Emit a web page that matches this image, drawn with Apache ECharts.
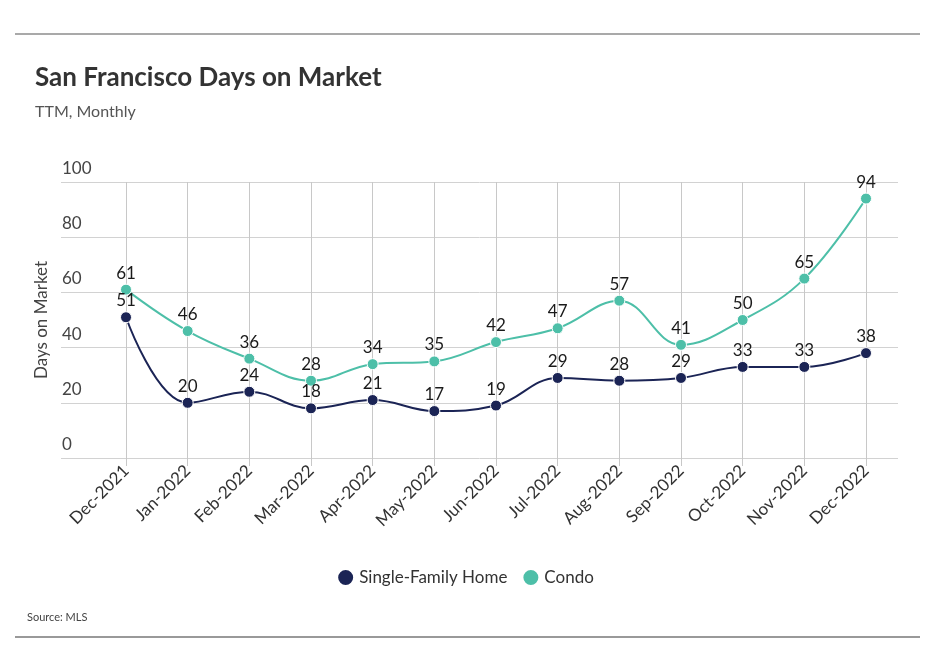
<!DOCTYPE html>
<html>
<head>
<meta charset="utf-8">
<script src="https://cdn.jsdelivr.net/npm/echarts@6/dist/echarts.min.js"></script>
<style>
  html, body { margin: 0; padding: 0; background: #fff; }
  #chart { width: 930px; height: 664px; }
</style>
</head>
<body>
<div id="chart"></div>
<script>
var months = ['Dec-2021', 'Jan-2022', 'Feb-2022', 'Mar-2022', 'Apr-2022', 'May-2022', 'Jun-2022',
              'Jul-2022', 'Aug-2022', 'Sep-2022', 'Oct-2022', 'Nov-2022', 'Dec-2022'];
var singleFamily = [51, 20, 24, 18, 21, 17, 19, 29, 28, 29, 33, 33, 38];
var condo = [61, 46, 36, 28, 34, 35, 42, 47, 57, 41, 50, 65, 94];
var yTicks = [0, 20, 40, 60, 80, 100];

var FONT = 'Lato, "Open Sans", sans-serif';

var myChart = echarts.init(document.getElementById('chart'));

function lineSeries(name, data, color) {
    return {
        name: name,
        type: 'line',
        xAxisIndex: 1,
        yAxisIndex: 1,
        data: data,
        smooth: 0.4,
        symbol: 'circle',
        symbolSize: 11,
        lineStyle: { color: color, width: 2 },
        itemStyle: { color: color, borderColor: '#fff', borderWidth: 1 },
        label: {
            show: true,
            position: 'top',
            distance: 2,
            color: '#1a1a1a',
            fontFamily: FONT,
            fontSize: 17
        }
    };
}

var option = {
    animation: false,
    backgroundColor: '#fff',
    title: {
        text: 'San Francisco Days on Market',
        subtext: 'TTM, Monthly',
        left: 30,
        top: 60,
        itemGap: 13,
        textStyle: { fontFamily: FONT, fontSize: 26, fontWeight: 'bold', color: '#333' },
        subtextStyle: { fontFamily: FONT, fontSize: 16, color: '#555' }
    },
    graphic: [
        { type: 'line', shape: { x1: 15, y1: 34, x2: 920, y2: 34 }, style: { stroke: '#555', lineWidth: 1.2 } },
        { type: 'line', shape: { x1: 15, y1: 637, x2: 920, y2: 637 }, style: { stroke: '#999', lineWidth: 2 } },
        { type: 'text', left: 27, top: 612, style: { text: 'Source: MLS', fontFamily: FONT, fontSize: 11, fill: '#444' } }
    ],
    legend: {
        data: ['Single-Family Home', 'Condo'],
        bottom: 72,
        left: 'center',
        icon: 'circle',
        itemWidth: 17,
        itemHeight: 17,
        itemGap: 14,
        textStyle: { fontFamily: FONT, fontSize: 17, color: '#333' }
    },
    grid: [
        { left: 61, right: 32, top: 182, bottom: 206 },
        { left: 126, right: 64, top: 182, bottom: 206 }
    ],
    xAxis: [
        { gridIndex: 0, type: 'category', data: months, show: false },
        {
            gridIndex: 1,
            type: 'category',
            data: months,
            boundaryGap: false,
            axisLine: { show: false },
            axisTick: { show: true, length: 8, lineStyle: { color: '#c8c8c8' } },
            splitLine: { show: true, lineStyle: { color: '#c8c8c8' } },
            axisLabel: {
                interval: 0,
                rotate: 45,
                margin: 10,
                color: '#333',
                fontFamily: FONT,
                fontSize: 17
            }
        }
    ],
    yAxis: [
        {
            gridIndex: 0,
            type: 'value',
            min: yTicks[0],
            max: yTicks[yTicks.length - 1],
            interval: 20,
            name: 'Days on Market',
            nameLocation: 'middle',
            nameGap: 11,
            nameTextStyle: { fontFamily: FONT, fontSize: 17, color: '#444' },
            axisLine: { show: false },
            axisTick: { show: false },
            splitLine: { lineStyle: { color: '#d2d2d2' } },
            axisLabel: {
                inside: true,
                margin: 1,
                verticalAlign: 'bottom',
                padding: [0, 0, 5, 0],
                color: '#444',
                fontFamily: FONT,
                fontSize: 17
            }
        },
        { gridIndex: 1, type: 'value', min: 0, max: 100, show: false }
    ],
    series: [
        lineSeries('Single-Family Home', singleFamily, '#1b2455'),
        lineSeries('Condo', condo, '#4dbfa8')
    ]
};

myChart.setOption(option);
</script>
</body>
</html>
